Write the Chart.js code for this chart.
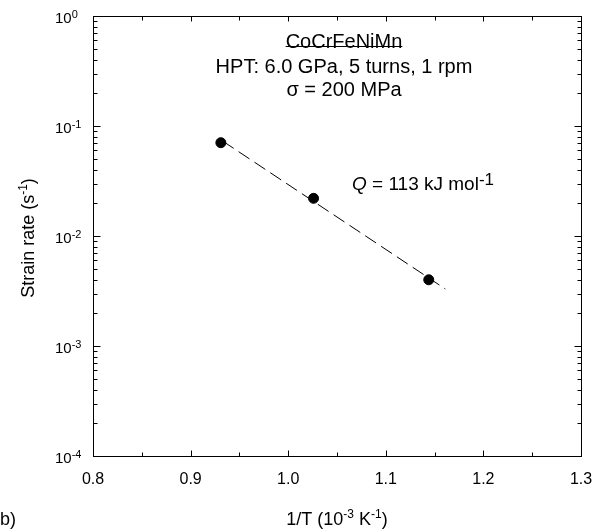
<!DOCTYPE html>
<html>
<head>
<meta charset="utf-8">
<script src="https://cdn.jsdelivr.net/npm/chart.js@4/dist/chart.umd.min.js"></script>
<style>
  html, body { margin: 0; padding: 0; background: #fff; }
  canvas { display: block; }
</style>
</head>
<body>
<canvas id="chart" width="593" height="531"></canvas>
<script>
// data
const invT = [0.931, 1.026, 1.144];          // 1/T (10^-3 K^-1)
const strainRate = [0.0705, 0.0220, 0.0040]; // s^-1
const fitX = [0.933, 1.161];
const fitY = [0.0728, 0.0033];

const xTicks = [0.8, 0.9, 1.0, 1.1, 1.2, 1.3];
const yExponents = [0, -1, -2, -3, -4];

const FONT = '"Liberation Sans", Arial, Helvetica, sans-serif';

// draw a row of text pieces, some raised (superscripts) or italic
function drawRuns(ctx, runs, x, y, align) {
  let total = 0;
  runs.forEach((r) => {
    ctx.font = (r.italic ? "italic " : "") + r.size + "px " + FONT;
    r.w = ctx.measureText(r.t).width;
    total += r.w;
  });
  let cx = x;
  if (align === "center") cx = x - total / 2;
  if (align === "right") cx = x - total;
  ctx.textAlign = "left";
  ctx.textBaseline = "alphabetic";
  runs.forEach((r) => {
    ctx.font = (r.italic ? "italic " : "") + r.size + "px " + FONT;
    ctx.fillText(r.t, cx, y - (r.dy || 0));
    cx += r.w;
  });
  return total;
}

const framePlugin = {
  id: "frame",
  afterDraw(chart) {
    const ctx = chart.ctx;
    const a = chart.chartArea;
    const xs = chart.scales.x;
    const ys = chart.scales.y;
    ctx.save();
    ctx.strokeStyle = "#000";
    ctx.fillStyle = "#000";
    ctx.lineWidth = 1;

    const L = Math.round(a.left) + 0.5, R = Math.round(a.right) + 0.5;
    const T = Math.round(a.top) + 0.5, B = Math.round(a.bottom) + 0.5;
    ctx.strokeRect(L, T, R - L, B - T);

    // inward ticks on x (major at labels, minor halfway)
    ctx.beginPath();
    xTicks.forEach((v, i) => {
      const px = Math.round(xs.getPixelForValue(v)) + 0.5;
      ctx.moveTo(px, B); ctx.lineTo(px, B - 6);
      ctx.moveTo(px, T); ctx.lineTo(px, T + 5);
      if (i < xTicks.length - 1) {
        const m = Math.round(xs.getPixelForValue((v + xTicks[i + 1]) / 2)) + 0.5;
        ctx.moveTo(m, B); ctx.lineTo(m, B - 4);
        ctx.moveTo(m, T); ctx.lineTo(m, T + 4);
      }
    });
    // inward ticks on y (decades + 2..9)
    yExponents.forEach((e) => {
      const py = Math.round(ys.getPixelForValue(Math.pow(10, e))) + 0.5;
      ctx.moveTo(L, py); ctx.lineTo(L + 7, py);
      ctx.moveTo(R, py); ctx.lineTo(R - 7, py);
      if (e < 0) {
        for (let k = 2; k <= 9; k++) {
          const q = Math.round(ys.getPixelForValue(k * Math.pow(10, e))) + 0.5;
          ctx.moveTo(L, q); ctx.lineTo(L + 4, q);
          ctx.moveTo(R, q); ctx.lineTo(R - 4, q);
        }
      }
    });
    ctx.stroke();

    // tick labels
    ctx.font = "16px " + FONT;
    ctx.textAlign = "center";
    ctx.textBaseline = "alphabetic";
    xTicks.forEach((v) => {
      ctx.fillText(v.toFixed(1), xs.getPixelForValue(v), B + 27);
    });
    yExponents.forEach((e) => {
      const py = ys.getPixelForValue(Math.pow(10, e));
      drawRuns(ctx, [
        { t: "10", size: 15 },
        { t: String(e), size: 11, dy: 5 },
      ], 55, py + 7, "left");
    });

    // axis titles
    drawRuns(ctx, [
      { t: "1/T (10", size: 18 },
      { t: "-3", size: 12, dy: 7 },
      { t: " K", size: 18 },
      { t: "-1", size: 12, dy: 7 },
      { t: ")", size: 18 },
    ], 337, 525, "center");
    drawRuns(ctx, [{ t: "b)", size: 18 }], 0, 525, "left");

    ctx.save();
    ctx.translate(34, 238);
    ctx.rotate(-Math.PI / 2);
    drawRuns(ctx, [
      { t: "Strain rate (s", size: 18 },
      { t: "-1", size: 12, dy: 7 },
      { t: ")", size: 18 },
    ], 0, 0, "center");
    ctx.restore();

    // annotations
    const cxText = 344;
    const w = drawRuns(ctx, [{ t: "CoCrFeNiMn", size: 20 }], cxText, 48, "center");
    ctx.beginPath();
    ctx.moveTo(cxText - w / 2, 46.5); ctx.lineTo(cxText + w / 2, 46.5);
    ctx.stroke();
    drawRuns(ctx, [{ t: "HPT: 6.0 GPa, 5 turns, 1 rpm", size: 20 }], cxText, 73, "center");
    drawRuns(ctx, [{ t: "\u03c3 = 200 MPa", size: 20 }], cxText, 96, "center");

    drawRuns(ctx, [
      { t: "Q", size: 19, italic: true },
      { t: " = 113 kJ mol", size: 19 },
      { t: "-1", size: 17, dy: 5 },
    ], 352, 190, "left");

    ctx.restore();
  },
};

new Chart(document.getElementById("chart"), {
  type: "scatter",
  data: {
    datasets: [
      {
        label: "fit",
        data: fitX.map((v, i) => ({ x: v, y: fitY[i] })),
        showLine: true,
        borderColor: "#000",
        borderWidth: 1,
        borderDash: [13, 6],
        pointRadius: 0,
        fill: false,
      },
      {
        label: "CoCrFeNiMn",
        data: invT.map((v, i) => ({ x: v, y: strainRate[i] })),
        backgroundColor: "#000",
        borderColor: "#000",
        pointRadius: 5,
        pointHoverRadius: 5,
      },
    ],
  },
  options: {
    responsive: false,
    animation: false,
    events: [],
    layout: { padding: { left: 93, right: 12, top: 16, bottom: 75 } },
    plugins: {
      legend: { display: false },
      tooltip: { enabled: false },
    },
    scales: {
      x: { type: "linear", min: 0.8, max: 1.3, display: false },
      y: { type: "logarithmic", min: 1e-4, max: 1, display: false },
    },
  },
  plugins: [framePlugin],
});
</script>
</body>
</html>
